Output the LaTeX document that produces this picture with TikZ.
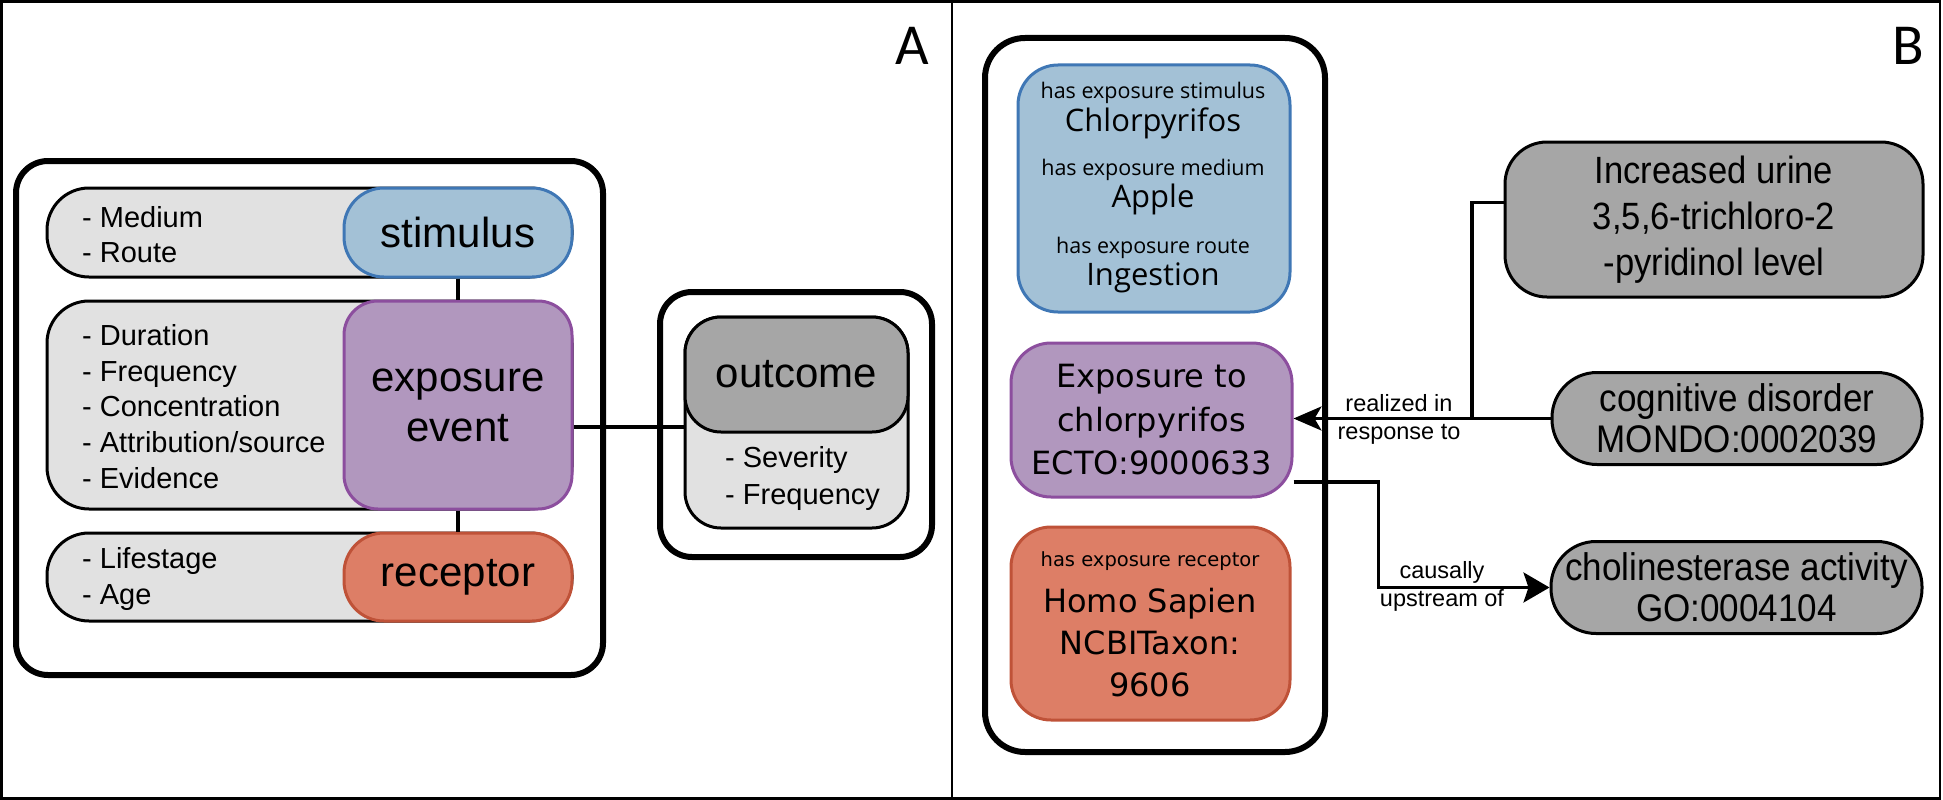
\documentclass[tikz,border=0pt]{standalone}
\usepackage{fontspec}
\setmainfont{Liberation Sans}
\newfontfamily\dvs{DejaVu Sans}
\newfontfamily\ops{Open Sans}
\newfontfamily\calf{Carlito}
\newfontfamily\nar[FakeStretch=0.91]{Liberation Sans}
\usetikzlibrary{arrows.meta}
\definecolor{rowgrey}{HTML}{E1E1E1}
\definecolor{blufill}{HTML}{A3C1D6}
\definecolor{bluline}{HTML}{3F77B5}
\definecolor{purfill}{HTML}{B197BE}
\definecolor{purline}{HTML}{8C4E9E}
\definecolor{orafill}{HTML}{DD7E66}
\definecolor{oraline}{HTML}{BF5238}
\definecolor{dkgrey}{HTML}{A6A6A6}
\tikzset{
  fs/.style={font=\fontsize{#1}{50}\selectfont},
  bigbox/.style={draw=black, line width=6pt, rounded corners=32pt, inner sep=0pt},
  rowbox/.style={draw=black, line width=3pt, fill=rowgrey, rounded corners=42pt, inner sep=0pt},
  colbox/.style={line width=3pt, rounded corners=40pt, inner sep=0pt, align=center},
  gbox/.style={draw=black, line width=3pt, fill=dkgrey, rounded corners=42pt, inner sep=0pt, align=center},
  conn/.style={line width=3.3pt},
  lst/.style={anchor=west, align=left, inner sep=0pt},
  lbl/.style={inner sep=0pt, align=center},
}
\begin{document}
\begin{tikzpicture}[x=1pt, y=-1pt]
\useasboundingbox (0,0) rectangle (1943,800);
% frame
\draw[line width=2.5pt] (1.5,1.5) rectangle (1940,798.5);
\draw[line width=2.5pt] (952,0) -- (952,800);
\node[lbl, font=\calf\fontsize{58}{60}\selectfont] (labA) at (912,46) {A};
\node[lbl, font=\calf\fontsize{58}{60}\selectfont] (labB) at (1908,46) {B};

% ---------- Panel A ----------
\node[bigbox, minimum width=587pt, minimum height=514pt] (bigA) at (309.5,418) {};
\node[rowbox, minimum width=525pt, minimum height=89pt] (stimrow) at (309.5,232.5) {};
\node[rowbox, minimum width=525pt, minimum height=208pt] (exprow) at (309.5,405) {};
\node[rowbox, minimum width=525pt, minimum height=88pt] (recrow) at (309.5,577) {};
\node[colbox, draw=bluline, fill=blufill, minimum width=228pt, minimum height=89pt, fs=42] (stim) at (458,232.5) {stimulus};
\node[colbox, draw=purline, fill=purfill, minimum width=228pt, minimum height=208pt, rounded corners=34pt, font=\fontsize{42}{50}\selectfont] (expo) at (458,405) {exposure\\event};
\node[colbox, draw=oraline, fill=orafill, minimum width=228pt, minimum height=88pt, fs=42] (rec) at (458,577) {receptor};
\node[lst, font=\fontsize{29}{35.5}\selectfont] (stimlist) at (82,234.5) {- Medium\\- Route};
\node[lst, font=\fontsize{29}{35.75}\selectfont] (explist) at (82,406.5) {- Duration\\- Frequency\\- Concentration\\- Attribution/source\\- Evidence};
\node[lst, font=\fontsize{29}{36}\selectfont] (reclist) at (82,579) {- Lifestage\\- Age};
\draw[conn] (stim.south) -- (expo.north);
\draw[conn] (expo.south) -- (rec.north);

% outcome
\node[bigbox, minimum width=272pt, minimum height=265pt] (outA) at (796,424.5) {};
\node[rowbox, minimum width=223pt, minimum height=211pt, rounded corners=36pt] (outlight) at (796.5,422.5) {};
\node[gbox, minimum width=223pt, minimum height=115pt, rounded corners=36pt, fs=42] (outdark) at (796.5,374.5) {outcome};
\node[lst, font=\fontsize{29}{37}\selectfont] (outlist) at (725,478.5) {- Severity\\- Frequency};
\draw[conn] ([yshift=-22pt]expo.east) -- ([yshift=-22pt]expo.east -| outlight.west);

% ---------- Panel B ----------
\node[bigbox, minimum width=340pt, minimum height=714pt, rounded corners=40pt] (bigB) at (1155,395) {};
\node[colbox, draw=bluline, fill=blufill, minimum width=272pt, minimum height=247pt] (blue) at (1154,188.5) {};
\node[lbl, font=\ops\fontsize{21.5}{23}\selectfont] (b1) at (1153,93) {has exposure stimulus};
\node[lbl, font=\ops\fontsize{31}{33}\selectfont] (b2) at (1153,123) {Chlorpyrifos};
\node[lbl, font=\ops\fontsize{21.5}{23}\selectfont] (b3) at (1153,170) {has exposure medium};
\node[lbl, font=\ops\fontsize{31}{33}\selectfont] (b4) at (1153,199) {Apple};
\node[lbl, font=\ops\fontsize{21.5}{23}\selectfont] (b5) at (1153,248) {has exposure route};
\node[lbl, font=\ops\fontsize{31}{33}\selectfont] (b6) at (1153,278) {Ingestion};

\node[colbox, draw=purline, fill=purfill, minimum width=281pt, minimum height=154pt, font=\dvs\fontsize{32}{43.5}\selectfont] (purp) at (1151.5,420) {Exposure to\\chlorpyrifos\\ECTO:9000633};

\node[colbox, draw=oraline, fill=orafill, minimum width=279pt, minimum height=193pt] (ora) at (1150.5,623.5) {};
\node[lbl, font=\dvs\fontsize{19.5}{21}\selectfont] (o1) at (1150,561) {has exposure receptor};
\node[lbl, font=\dvs\fontsize{32}{42}\selectfont] (o2) at (1150,643) {Homo Sapien\\NCBITaxon:\\9606};

% right boxes
\node[gbox, minimum width=418pt, minimum height=155pt, font=\nar\fontsize{38}{46}\selectfont] (incr) at (1714,219.5) {Increased urine\\3,5,6-trichloro-2\\-pyridinol level};
\node[gbox, minimum width=370pt, minimum height=92pt, rounded corners=45pt, font=\nar\fontsize{38.5}{41}\selectfont] (cogn) at (1737,418.5) {cognitive disorder\\MONDO:0002039};
\node[gbox, minimum width=371pt, minimum height=92pt, rounded corners=45pt, font=\nar\fontsize{38.5}{41}\selectfont] (chol) at (1736.5,587.5) {cholinesterase activity\\GO:0004104};

\coordinate (junc) at (1472,418.5);
\draw[conn, -{Stealth[length=28pt,width=24pt,inset=7pt]}] (cogn.west) -- (purp.east |- cogn.west);
\draw[conn] ([yshift=17pt]incr.west) -| (junc);
\draw[conn, -{Stealth[length=26pt,width=30pt,inset=5pt]}] ([yshift=-62pt]purp.east) -- ++(85pt,0) |- (chol.west);

\node[lbl, font=\fontsize{23.5}{28}\selectfont] (rl) at (1399,419) {realized in\\response to};
\node[lbl, font=\fontsize{23.5}{28}\selectfont] (cl) at (1442,586) {causally\\upstream of};
\end{tikzpicture}
\end{document}
